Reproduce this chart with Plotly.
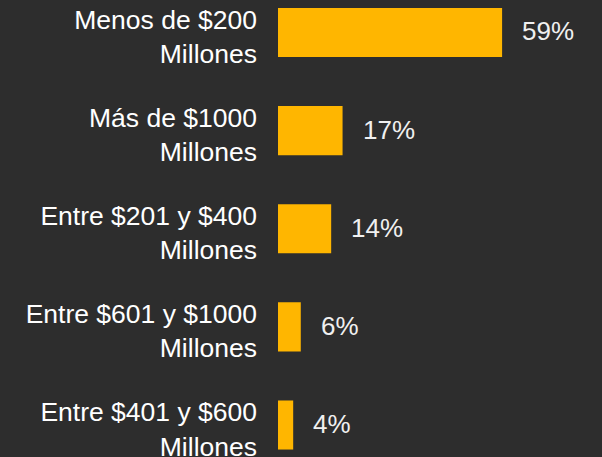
import plotly.graph_objects as go

categories = ["Menos de $200<br>Millones", "Más de $1000<br>Millones", "Entre $201 y $400<br>Millones",
              "Entre $601 y $1000<br>Millones", "Entre $401 y $600<br>Millones"]
values = [59, 17, 14, 6, 4]
labels = ["59%", "17%", "14%", "6%", "4%"]

pos = list(range(len(categories)))
BG = "#2d2d2d"
FONT = "Liberation Sans, Arial, sans-serif"

fig = go.Figure(go.Bar(
    x=values, y=pos, orientation="h", width=0.5,
    marker=dict(color="#FFB600", line=dict(width=0)),
    hoverinfo="skip",
))

for v, p, t in zip(values, pos, labels):
    fig.add_annotation(x=v, y=p, text=t, showarrow=False, xanchor="left", yanchor="middle",
                       xshift=18, yshift=1, font=dict(size=26, color="#f0f0f0", family=FONT))

fig.update_layout(
    width=602, height=457,
    margin=dict(l=278, r=0, t=0, b=0, autoexpand=False),
    paper_bgcolor=BG, plot_bgcolor=BG,
    showlegend=False,
    font=dict(family=FONT, size=26, color="#ffffff"),
    xaxis=dict(range=[0, 85.3], visible=False, fixedrange=True, automargin=False),
    yaxis=dict(range=[4.326, -0.331], tickvals=pos, ticktext=categories,
               showgrid=False, zeroline=False, showline=False, ticks="",
               ticklabelstandoff=20, ticklabelshift=-4, ticklabeloverflow="allow",
               fixedrange=True, automargin=False,
               tickfont=dict(size=26.5, color="#ffffff", family=FONT)),
)

fig.write_html("out.html", config={"displayModeBar": False, "staticPlot": True},
               post_script="document.body.style.margin='0';document.body.style.background='#2d2d2d';")
